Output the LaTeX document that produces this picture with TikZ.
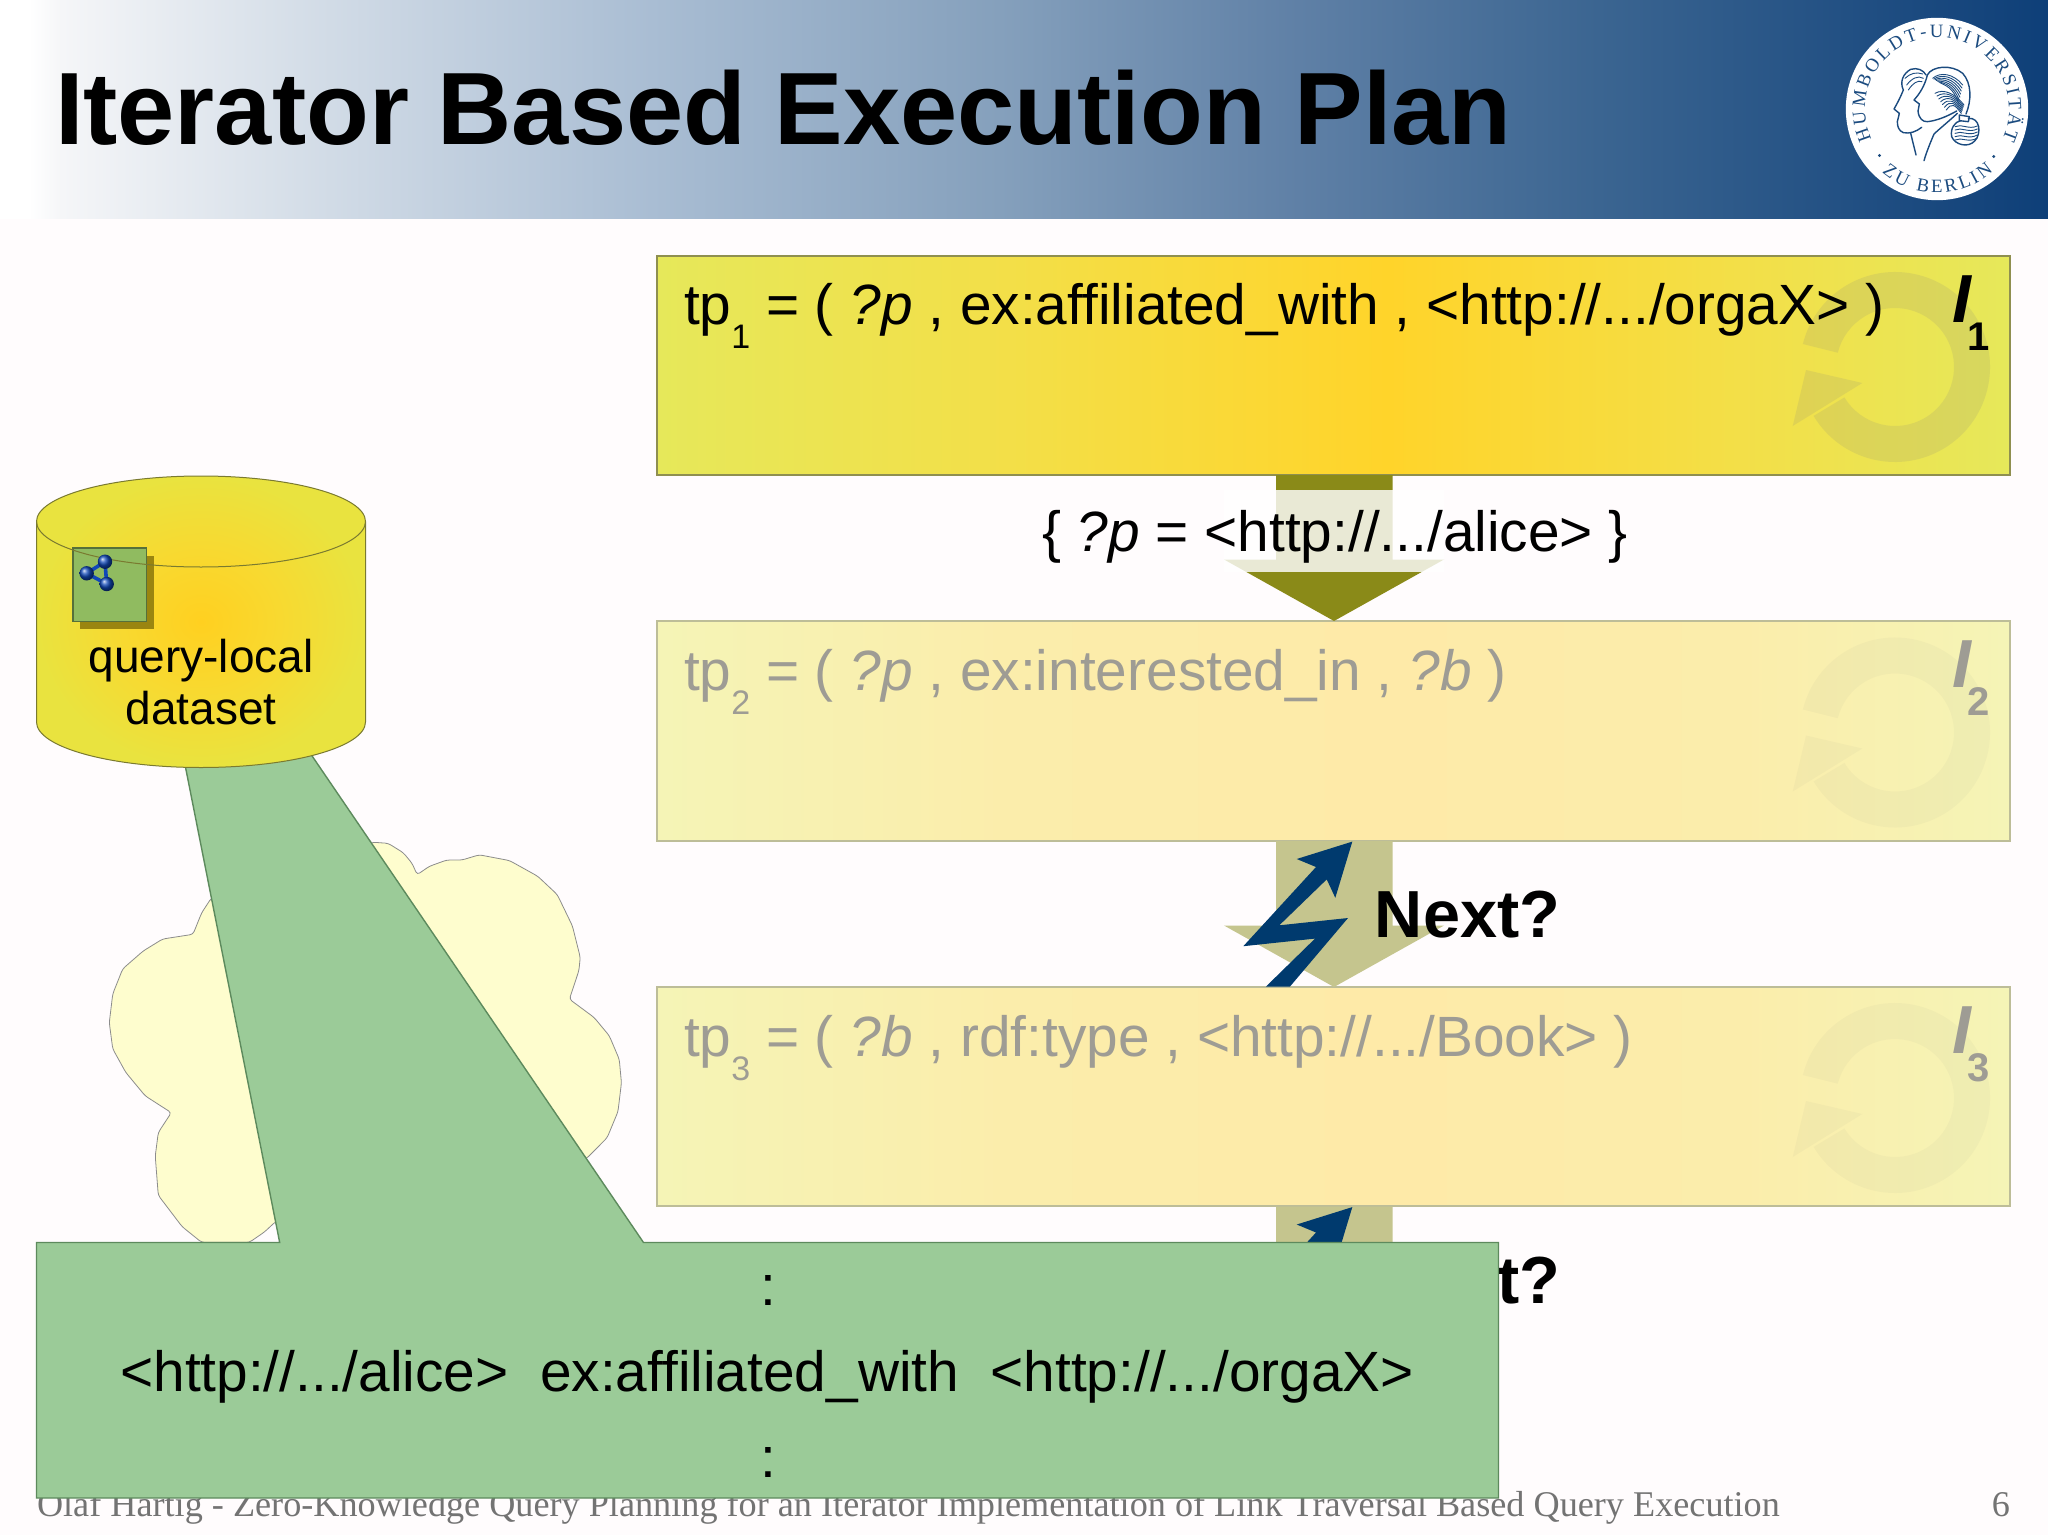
\documentclass[tikz,border=0pt]{standalone}
\usepackage{fontspec}
\setmainfont{Liberation Sans}
\newfontfamily\serifface{Liberation Serif}
\usetikzlibrary{decorations.text}
\definecolor{bgc}{HTML}{FFFCFD}
\definecolor{hA}{HTML}{FFFFFF}
\definecolor{hB}{HTML}{F5F6F8}
\definecolor{hC}{HTML}{D5DEE8}
\definecolor{hD}{HTML}{A9BDD3}
\definecolor{hE}{HTML}{85A0BC}
\definecolor{hF}{HTML}{5F80A6}
\definecolor{hG}{HTML}{3B6591}
\definecolor{hH}{HTML}{0E3F78}
\definecolor{yEdge}{HTML}{E6E85A}
\definecolor{yMid}{HTML}{F3DF48}
\definecolor{yCore}{HTML}{FFD42A}
\definecolor{pEdge}{HTML}{F5F4B6}
\definecolor{pMid}{HTML}{FBEDAB}
\definecolor{pCore}{HTML}{FEEAA8}
\definecolor{cylOut}{HTML}{E9E33F}
\definecolor{cylMid}{HTML}{F8D930}
\definecolor{cylCore}{HTML}{FFD020}
\definecolor{olive}{HTML}{8A8A18}
\definecolor{oliveP}{HTML}{C5C58E}
\definecolor{boxl}{HTML}{8F8F50}
\definecolor{palel}{HTML}{BDBD98}
\definecolor{cyll}{HTML}{7A7A30}
\definecolor{boltc}{HTML}{003A6E}
\definecolor{greenf}{HTML}{9BCB98}
\definecolor{greenl}{HTML}{5D8A5D}
\definecolor{cloudf}{HTML}{FEFDCE}
\definecolor{grayt}{HTML}{9E9C94}
\definecolor{logoc}{HTML}{1B4B7F}
\definecolor{sqf}{HTML}{90BB60}
\definecolor{sqs}{HTML}{9A8510}
\definecolor{molc}{HTML}{1048B8}
\pgfdeclarehorizontalshading{headshade}{100bp}{color(0bp)=(hA); color(25bp)=(hA); color(25.7bp)=(hA); color(26.5bp)=(hB); color(32.3bp)=(hC); color(40.9bp)=(hD); color(49.4bp)=(hE); color(56.7bp)=(hF); color(64bp)=(hG); color(75bp)=(hH); color(100bp)=(hH)}
\pgfdeclarehorizontalshading{boxshade}{100bp}{color(0bp)=(yEdge); color(25bp)=(yEdge); color(38bp)=(yMid); color(52bp)=(yCore); color(65bp)=(yMid); color(75bp)=(yEdge); color(100bp)=(yEdge)}
\pgfdeclarehorizontalshading{paleshade}{100bp}{color(0bp)=(pEdge); color(25bp)=(pEdge); color(38bp)=(pMid); color(52bp)=(pCore); color(65bp)=(pMid); color(75bp)=(pEdge); color(100bp)=(pEdge)}
\pgfdeclareradialshading{cylshade}{\pgfpoint{0bp}{0bp}}{color(0bp)=(cylCore); color(12bp)=(cylMid); color(25bp)=(cylOut); color(50bp)=(cylOut)}
\tikzset{
  txt/.style={inner sep=0pt,outer sep=0pt,font=\fontsize{28.4}{28.4}\selectfont,text=black,anchor=base west},
  pale/.style={txt,text=grayt},
  iter/.style={inner sep=0pt,outer sep=0pt,font=\fontsize{34}{34}\selectfont\bfseries\itshape,anchor=base west},
  nextlab/.style={inner sep=0pt,outer sep=0pt,font=\fontsize{33.3}{33.3}\selectfont\bfseries,anchor=base east},
  strand/.style={logoc,line width=.45pt,line cap=round},
  logol/.style={logoc,line width=.7pt,line cap=round,line join=round},
}
\newcommand{\subn}[1]{\raisebox{-12pt}{\fontsize{17}{17}\selectfont #1}}
\newcommand{\subb}[1]{\hspace{-1.5pt}\raisebox{-14pt}{\fontsize{20}{20}\selectfont\upshape\bfseries #1}}
\newcommand{\ringicon}[2]{%
  \begin{scope}[shift={(0,#1)}]
    \coordinate (rc) at (1895,367);
    \fill[gray,opacity=#2] ([shift={(166:47.5pt)}]rc) arc[start angle=166,end angle=-149,radius=47.5pt]
      -- ([shift={(211:29.5pt)}]rc) arc[start angle=-149,end angle=166,radius=29.5pt] -- cycle
      (1806,370) -- (1862.3,383) -- (1792.7,426) -- cycle;
  \end{scope}}
\newcommand{\boltshape}[1]{%
  \begin{scope}[shift={(0,#1)}]
    \fill[boltc] (1352.3,841.6) -- (1335.3,897.8) -- (1326.7,879.4) -- (1279.3,925.3) -- (1348,918)
      -- (1290,986.5) -- (1266,986.5) -- (1315,938.6) -- (1243.3,946.2) -- (1316,867) -- (1296.7,859) -- cycle;
  \end{scope}}
\newcommand{\arrowshape}[2]{%
  \fill[#2] (1276,#1) -- (1392.7,#1) -- (1392.7,#1+84.5) -- (1444,#1+84.5) -- (1334,#1+146) -- (1224,#1+84.5) -- (1276,#1+84.5) -- cycle;}
\begin{document}
\begin{tikzpicture}[x=0.5pt,y=-0.5pt]
\useasboundingbox (0,0) rectangle (2048,1535);
\fill[bgc] (0,0) rectangle (2048,1535);
% header
\shade[shading=headshade] (0,0) rectangle (2048,219);
\node[inner sep=0pt,outer sep=0pt,anchor=base west,font=\fontsize{51.4}{51.4}\selectfont\bfseries] (title) at (55,145) {Iterator Based Execution Plan};
% logo
\coordinate (lc) at (1937,109);
\fill[white] (lc) circle[radius=45.6pt];
\path[decorate,decoration={text along path,text align={fit to path},text={|\serifface\fontsize{9.4}{9.4}\selectfont\color{logoc}|HUMBOLDT-UNIVERSITÄT}}]
  ([shift={(205:36pt)}]lc) arc[start angle=205,end angle=-25,radius=36pt];
\path[decorate,decoration={text along path,text align={fit to path},text={|\serifface\fontsize{9.4}{9.4}\selectfont\color{logoc}|ZU BERLIN}}]
  ([shift={(229:42pt)}]lc) arc[start angle=229,end angle=312,radius=42pt];
\fill[logoc] ([shift={(219:37pt)}]lc) circle[radius=.8pt] ([shift={(-40:37pt)}]lc) circle[radius=.8pt];
\begin{scope}[shift={(1840,10)},x=0.16667pt,y=-0.16667pt]
  % back face
  \draw[logol] (190,240) .. controls (182,260) and (172,280) .. (162,297) -- (178,310) -- (172,335) .. controls (172,350) and (176,362) .. (190,368) .. controls (210,372) and (228,365) .. (245,352);
  \draw[logol] (190,240) .. controls (178,215) and (190,190) .. (212,178) .. controls (232,172) and (250,180) .. (258,195);
  \draw[strand] (200,225) .. controls (215,205) and (235,195) .. (250,205);
  \draw[strand] (195,205) .. controls (210,190) and (230,185) .. (248,192);
  \draw[strand] (205,240) .. controls (218,220) and (232,210) .. (246,215);
  \draw[logol] (212,370) -- (228,435);
  % front face
  \draw[logol] (262,195) .. controls (255,225) and (240,250) .. (222,270) -- (238,282) -- (234,303) .. controls (236,325) and (248,336) .. (262,335) .. controls (290,332) and (320,320) .. (350,303);
  \draw[logol] (262,195) .. controls (275,168) and (335,162) .. (368,190) .. controls (395,220) and (395,270) .. (378,312);
  \draw[logol] (352,310) .. controls (325,335) and (300,355) .. (282,372) .. controls (270,400) and (258,430) .. (252,452);
  \foreach \d in {0,14,28,42,56,70,84}{
    \draw[strand] (278+\d*.25,205+\d*.15) .. controls (300+\d*.2,185+\d*.5) and (340,190+\d*.5) .. (368-\d*.15,225+\d*.65);
    \draw[strand] (285+\d*.4,250+\d*.6) .. controls (310+\d*.3,235+\d*.5) and (345,250+\d*.4) .. (372-\d*.1,285+\d*.3);
  }
  % queue
  \draw[logol] (358,315) -- (388,320) -- (385,335) -- (358,332) -- cycle;
  \draw[logol] (385,325) .. controls (420,322) and (425,370) .. (405,392) .. controls (385,415) and (345,405) .. (335,380) .. controls (330,355) and (345,335) .. (362,332);
  \foreach \d in {0,10,20,30,40}{
    \draw[strand] (345,350+\d) .. controls (365,340+\d) and (385,360+\d) .. (412,348+\d*.9);
  }
\end{scope}
% pattern boxes
\shade[shading=boxshade,draw=boxl,line width=.6pt] (657,256) rectangle (2010,475);
\shade[shading=paleshade,draw=palel,line width=.6pt] (657,621) rectangle (2010,841);
\shade[shading=paleshade,draw=palel,line width=.6pt] (657,987) rectangle (2010,1206);
\ringicon{0}{.15}
\ringicon{365.5}{.05}
\ringicon{731}{.05}
% arrows
\arrowshape{475}{olive}
\fill[white,opacity=.82] (1224,490) rectangle (1444,571.7);
\arrowshape{841}{oliveP}
\arrowshape{1206.5}{oliveP}
\boltshape{0}
\boltshape{365.5}
% texts of boxes
\node[txt] (tpa) at (684,325) {tp\subn{1} = ( \textit{?p} , ex:affiliated\_with , <http://.../orgaX> )};
\node[iter] (ia) at (1952,322) {I\subb{1}};
\node[pale] (tpb) at (684,690.5) {tp\subn{2} = ( \textit{?p} , ex:interested\_in , \textit{?b} )};
\node[iter,text=grayt] (ib) at (1952,687.5) {I\subb{2}};
\node[pale] (tpc) at (684,1056) {tp\subn{3} = ( \textit{?b} , rdf:type , <http://.../Book> )};
\node[iter,text=grayt] (ic) at (1952,1053) {I\subb{3}};
\node[txt] (bind) at (1042,551) {\{ \textit{?p} = <http://.../alice> \}};
\node[nextlab] (nexta) at (1560,937) {Next?};
\node[nextlab] (nextb) at (1560,1303) {t?};
% footer
\node[inner sep=0pt,outer sep=0pt,anchor=base west,text=black!55,font=\serifface\fontsize{18.1}{18.1}\selectfont] (foot) at (37,1516) {Olaf Hartig - Zero-Knowledge Query Planning for an Iterator Implementation of Link Traversal Based Query Execution};
\node[inner sep=0pt,outer sep=0pt,anchor=base east,text=black!55,font=\serifface\fontsize{18.1}{18.1}\selectfont] (pageno) at (2010,1516) {6};
% cloud
\begin{scope}[shift={(0,450)},x=0.21683pt,y=-0.2615pt]
  \draw[fill=cloudf,draw=black!45,line width=.4pt,rounded corners=1.5pt]
    (860,750) -- (895,752) -- (930,770) -- (950,790) -- (962,812) -- (990,796) -- (1030,784) -- (1065,784) -- (1105,774)
    -- (1175,785) -- (1240,815) -- (1285,850) -- (1320,910) -- (1338,970) -- (1335,995) -- (1313,1050) -- (1370,1085)
    -- (1405,1120) -- (1428,1165) -- (1433,1210) -- (1425,1265) -- (1400,1315) -- (1352,1355)
    -- (636,1475) -- (610,1495) -- (575,1515) -- (465,1515) -- (420,1485) -- (365,1425) -- (358,1350) -- (365,1305)
    -- (395,1267) -- (335,1235) -- (290,1190) -- (260,1145) -- (252,1095) -- (260,1040) -- (283,992) -- (330,958)
    -- (375,935) -- (445,926) -- (465,885) -- (487,857) -- cycle;
\end{scope}
% green callout
\draw[fill=greenf,draw=greenl,line width=.7pt,line join=miter]
  (36.5,1242.5) -- (279.7,1242.5) -- (181.6,747.5) -- (297.8,735) -- (643.5,1242.5) -- (1498.5,1242.5) -- (1498.5,1498) -- (36.5,1498) -- cycle;
\node[txt,anchor=base] (cola) at (768,1305) {:};
\node[txt,anchor=base] (triple) at (767,1391) {<http://.../alice>\ \ ex:affiliated\_with\ \ <http://.../orgaX>};
\node[txt,anchor=base] (colb) at (768,1477) {:};
% cylinder
\shade[shading=cylshade,draw=cyll,line width=.5pt]
  (36.5,521.5) arc[start angle=180,end angle=0,x radius=82.25pt,y radius=22.75pt]
  -- (365.5,722) arc[start angle=0,end angle=-180,x radius=82.25pt,y radius=22.75pt] -- cycle;
\fill[sqs] (80,555.6) rectangle (153.5,629);
\draw[fill=sqf,draw=black!40!sqf,line width=.6pt] (73,548) rectangle (146.6,621.5);
\draw[cyll,line width=.5pt] (36.5,521.5) arc[start angle=180,end angle=360,x radius=82.25pt,y radius=22.75pt];
\draw[molc,line width=1.8pt] (105,561.7) -- (86.7,573.3) -- (106.7,584) -- cycle;
\shade[ball color=molc] (105,561.7) circle[radius=3.6pt];
\shade[ball color=molc] (86.7,573.3) circle[radius=3.6pt];
\shade[ball color=molc] (106.7,584) circle[radius=3.6pt];
\node[inner sep=0pt,outer sep=0pt,anchor=base,font=\fontsize{23}{23}\selectfont] (qla) at (201,672) {query-local};
\node[inner sep=0pt,outer sep=0pt,anchor=base,font=\fontsize{23}{23}\selectfont] (qlb) at (201,724.5) {dataset};
\end{tikzpicture}
\end{document}
